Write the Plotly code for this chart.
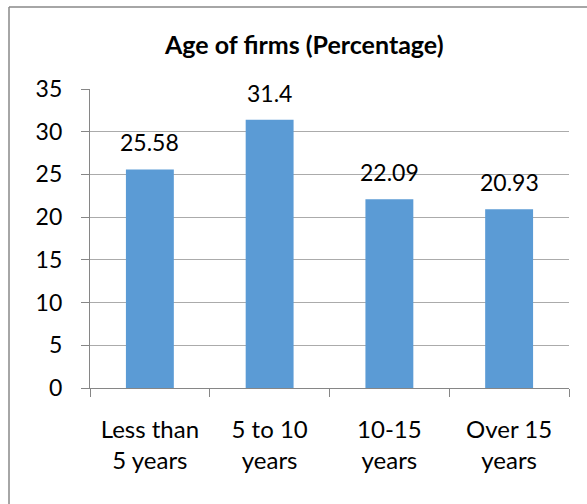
import plotly.graph_objects as go

categories = ["Less than<br>5 years", "5 to 10<br>years", "10-15<br>years", "Over 15<br>years"]
values = [25.58, 31.4, 22.09, 20.93]
value_labels = ["25.58", "31.4", "22.09", "20.93"]
y_ticks = [0, 5, 10, 15, 20, 25, 30, 35]
title_text = "Age of firms (Percentage)"

W, H = 587, 504
L, R, T, B = 90, 18, 89, 116
pw, ph = W - L - R, H - T - B

FONT = "Lato"
FS = 23

fig = go.Figure()
fig.add_trace(go.Bar(
    x=categories, y=values,
    marker=dict(color="#5B9BD5", line=dict(width=0)),
    hoverinfo="skip",
))
for c, v, t in zip(categories, values, value_labels):
    fig.add_annotation(x=c, y=v, text=t, showarrow=False, yanchor="bottom",
                       yshift=11, font=dict(family=FONT, size=FS, color="#000000"))

gx0 = (9 - L) / pw
gy_top = 1 + (T - 7) / ph
gy_bot = -(B + 5) / ph
fig.add_shape(type="line", xref="paper", yref="paper", x0=gx0, x1=(W + 5 - L) / pw,
              y0=gy_top, y1=gy_top, line=dict(color="#888888", width=1.5))
fig.add_shape(type="line", xref="paper", yref="paper", x0=gx0, x1=gx0,
              y0=gy_top, y1=gy_bot, line=dict(color="#888888", width=1.5))

fig.add_annotation(xref="paper", yref="paper", x=(303.5 - L) / pw, y=1 + (T - 44) / ph,
                   text="<b>" + title_text + "</b>", showarrow=False,
                   xanchor="center", yanchor="middle",
                   font=dict(family=FONT, size=25, color="#000000"))

fig.update_layout(
    width=W, height=H,
    margin=dict(l=L, r=R, t=T, b=B, pad=0),
    paper_bgcolor="white", plot_bgcolor="white",
    bargap=0.6, showlegend=False,
    font=dict(family=FONT, size=FS, color="#000000"),
)
fig.update_xaxes(
    showline=True, linecolor="#868686", linewidth=1.2,
    ticks="outside", ticklen=8, tickcolor="#868686", tickson="boundaries",
    showgrid=False, tickfont=dict(family=FONT, size=24), ticklabelstandoff=20,
    fixedrange=True,
)
fig.update_yaxes(
    range=[0, 35], tickvals=y_ticks, ticktext=[str(v) for v in y_ticks],
    showline=True, linecolor="#868686", linewidth=1.2,
    ticks="outside", ticklen=8, tickcolor="#868686",
    showgrid=True, gridcolor="#ABABAB", gridwidth=1,
    zeroline=False, ticklabelstandoff=14,
    tickfont=dict(family=FONT, size=FS), fixedrange=True,
)

fig.write_html("out.html", config={"displayModeBar": False},
               post_script="document.body.style.margin='0';document.body.style.overflow='hidden';")
